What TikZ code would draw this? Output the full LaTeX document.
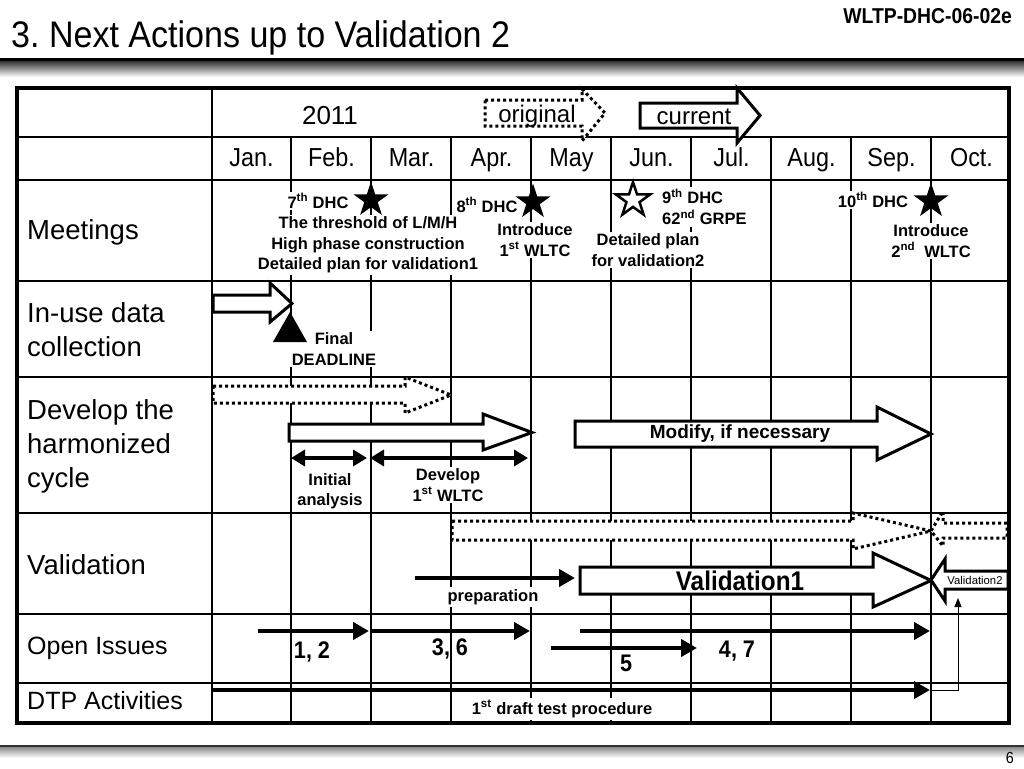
\documentclass[tikz,border=0pt]{standalone}
\usepackage{fontspec}
\setmainfont{Liberation Sans}
\newfontfamily\nar[FakeStretch=0.9]{Liberation Sans}
\newfontfamily\narb[FakeStretch=0.92]{Liberation Sans}
\usetikzlibrary{shapes.geometric,arrows.meta}
\newcommand{\blockarr}[9]{\draw[#1] (#2,#3) -- (#5,#3) -- (#5,#6) -- (#8,#9) -- (#5,#7) -- (#5,#4) -- (#2,#4) -- cycle;}
\frenchspacing
\begin{document}
\begin{tikzpicture}[x=1pt,y=-1pt,
  grid/.style={line width=1.3pt},
  border/.style={line width=3.5pt},
  lbl/.style={anchor=west,inner sep=0pt,font=\fontsize{27.5}{34}\selectfont,align=left},
  lbls/.style={anchor=base west,inner sep=0pt,font=\fontsize{25}{30}\selectfont},
  mon/.style={font=\nar\fontsize{26}{30}\selectfont,inner sep=0pt,anchor=base},
  btxt/.style={font=\bfseries\fontsize{16.5}{20.5}\selectfont,align=center,fill=white,inner sep=2pt},
  solidarrow/.style={draw=black,fill=white,line width=3pt,line join=miter},
  dotarrow/.style={draw=black,fill=white,line width=3pt,dash pattern=on 3pt off 3pt},
  tl/.style={line width=4pt,-{Triangle[length=16pt,width=17pt]}},
  dbl/.style={line width=3.5pt,{Triangle[length=14pt,width=16pt]}-{Triangle[length=14pt,width=16pt]}},
  starf/.style={star,star points=5,star point ratio=2.618,minimum size=37pt,inner sep=0pt,fill=black},
  staro/.style={star,star points=5,star point ratio=2.618,minimum size=36pt,inner sep=0pt,draw=black,line width=2.5pt,fill=white},
  num/.style={font=\nar\bfseries\fontsize{24}{26}\selectfont,inner sep=0pt}
]
\fill[white] (0,0) rectangle (1024,768);
\useasboundingbox (0,0) rectangle (1024,768);

% header
\node[anchor=base west,font=\narb\fontsize{37}{42}\selectfont,inner sep=0pt] (title) at (11,48) {3. Next Actions up to Validation 2};
\node[anchor=base east,font=\nar\bfseries\fontsize{21.5}{24}\selectfont,inner sep=0pt] (code) at (1012,24) {WLTP-DHC-06-02e};
\fill[black] (0,58) rectangle (1024,61);
\shade[top color=black!80,bottom color=white] (0,61) rectangle (1024,77);
\fill[black!80] (0,745) rectangle (1024,747);
\shade[top color=black!45,bottom color=white] (0,747) rectangle (1024,758);
\node[anchor=base east,font=\nar\fontsize{16}{18}\selectfont,inner sep=0pt] (pg) at (1014,763) {6};

% grid
\foreach \y in {137,180,281,377,513,614,683} \draw[grid] (17,\y) -- (1009,\y);
\draw[grid] (212,88) -- (212,723);
\foreach \x in {291,371,...,931} \draw[grid] (\x,137) -- (\x,723);

% year / months
\node[font=\fontsize{26}{30}\selectfont,inner sep=0pt,anchor=base] (yr) at (330,124) {2011};
\foreach \m [count=\i] in {Jan.,Feb.,Mar.,Apr.,May,Jun.,Jul.,Aug.,Sep.,Oct.}
  \node[mon] (m\i) at ({251.5+80*(\i-1)},166) {\m};

% legend
\blockarr{dotarrow}{485}{100}{126}{582}{89}{141}{605}{113}
\node[font=\fontsize{24}{28}\selectfont,inner sep=0pt,anchor=base] (orig) at (537,122) {original};
\blockarr{solidarrow}{640}{103}{128}{737}{88}{143}{760}{115.5}
\node[font=\fontsize{24}{28}\selectfont,inner sep=0pt,anchor=base] (curr) at (694,124) {current};

% row labels
\node[lbl] (lmeet) at (27,232) {Meetings};
\node[lbl] (luse) at (27,330) {In-use data\\collection};
\node[lbl] (ldev) at (27,446) {Develop the\\harmonized\\cycle};
\node[lbl] (lval) at (27,565) {Validation};
\node[lbls] (lopen) at (27,654) {Open Issues};
\node[lbls] (ldtp) at (27,709) {DTP Activities};

% meetings
\node[btxt] (d7) at (318,201) {7\textsuperscript{th} DHC};
\node[starf] (s7) at (371,200) {};
\node[btxt] (d7t) at (368,245) {The threshold of L/M/H\\High phase construction\\Detailed plan for validation1};
\node[btxt] (d8) at (487,205) {8\textsuperscript{th} DHC};
\node[starf] (s8) at (533,202) {};
\node[btxt] (d8t) at (535,240) {Introduce\\1\textsuperscript{st} WLTC};
\node[staro] (s9) at (633,200) {};
\node[btxt,align=left,anchor=west] (d9) at (660,207) {9\textsuperscript{th} DHC\\62\textsuperscript{nd} GRPE};
\node[btxt] (d9t) at (648,250) {Detailed plan\\for validation2};
\node[btxt] (d10) at (873,200) {10\textsuperscript{th} DHC};
\node[starf] (s10) at (931,201) {};
\node[btxt] (d10t) at (931,241) {Introduce\\2\textsuperscript{nd}\ \ WLTC};

% in-use data collection
\blockarr{solidarrow}{213}{295}{312}{270}{283}{322}{292}{303.5}
\node[btxt] (fd) at (334,349) {Final\\DEADLINE};
\fill[black] (290,312) -- (307,342) -- (273,342) -- cycle;

% develop
\blockarr{dotarrow}{213}{386}{403}{405}{377}{413}{451}{395}
\blockarr{solidarrow}{289}{424}{441}{483}{414}{450}{532}{432.5}
\coordinate (ia1) at (291,458); \coordinate (ia2) at (367,458);
\coordinate (dv1) at (370,458); \coordinate (dv2) at (528,458);
\draw[dbl] (ia1) -- (ia2);
\draw[dbl] (dv1) -- (dv2);
\node[btxt] (ini) at (330,491) {Initial\\analysis};
\node[btxt] (dev) at (448,485) {Develop\\1\textsuperscript{st} WLTC};
\blockarr{solidarrow}{575}{421}{447}{877}{407}{460}{931}{434}
\node[font=\bfseries\fontsize{19}{22}\selectfont,inner sep=0pt] (mod) at (740,434) {Modify, if necessary};

% validation
\blockarr{dotarrow}{452}{521}{540}{853}{513}{549}{931}{531}
\blockarr{dotarrow}{1007}{523}{538}{943}{511}{546}{931}{531}
\blockarr{solidarrow}{580}{567}{594}{873}{553}{607}{931}{580.5}
\node[font=\nar\bfseries\fontsize{27}{30}\selectfont,inner sep=0pt,anchor=base] (v1) at (740,590) {Validation1};
\blockarr{solidarrow}{1008}{571}{589}{945}{559}{601}{931}{580}
\node[font=\fontsize{11.3}{13}\selectfont,inner sep=0pt,anchor=base] (v2) at (975,584) {Validation2};
\coordinate (pr1) at (415,578); \coordinate (pr2) at (575,578);
\draw[tl] (pr1) -- (pr2);
\node[btxt] (prep) at (493,597) {preparation};

% open issues
\coordinate (o1a) at (258,631); \coordinate (o1b) at (369,631);
\coordinate (o2a) at (371,631); \coordinate (o2b) at (530,631);
\coordinate (o3a) at (580,631); \coordinate (o3b) at (930,631);
\coordinate (o4a) at (551,648); \coordinate (o4b) at (697,648);
\draw[tl] (o1a) -- (o1b);
\draw[tl] (o2a) -- (o2b);
\draw[tl] (o3a) -- (o3b);
\draw[tl] (o4a) -- (o4b);
\node[num,anchor=base] (n12) at (312,658) {1, 2};
\node[num,anchor=base] (n36) at (450,655) {3, 6};
\node[num,anchor=base] (n5) at (626,671) {5};
\node[num,anchor=base] (n47) at (737,657) {4, 7};

% DTP
\coordinate (dt1) at (212,690); \coordinate (dt2) at (930,690);
\coordinate (dtc) at (958,690); \coordinate (dtu) at (958,598);
\draw[tl] (dt1) -- (dt2);
\node[btxt] (dtp) at (562,709) {1\textsuperscript{st} draft test procedure};
\draw[line width=1pt,-{Triangle[length=9pt,width=7pt]}] (dt2) -- (dtc) -- (dtu);

% outer border
\draw[border] (17,88) rectangle (1009,723);
\end{tikzpicture}
\end{document}
